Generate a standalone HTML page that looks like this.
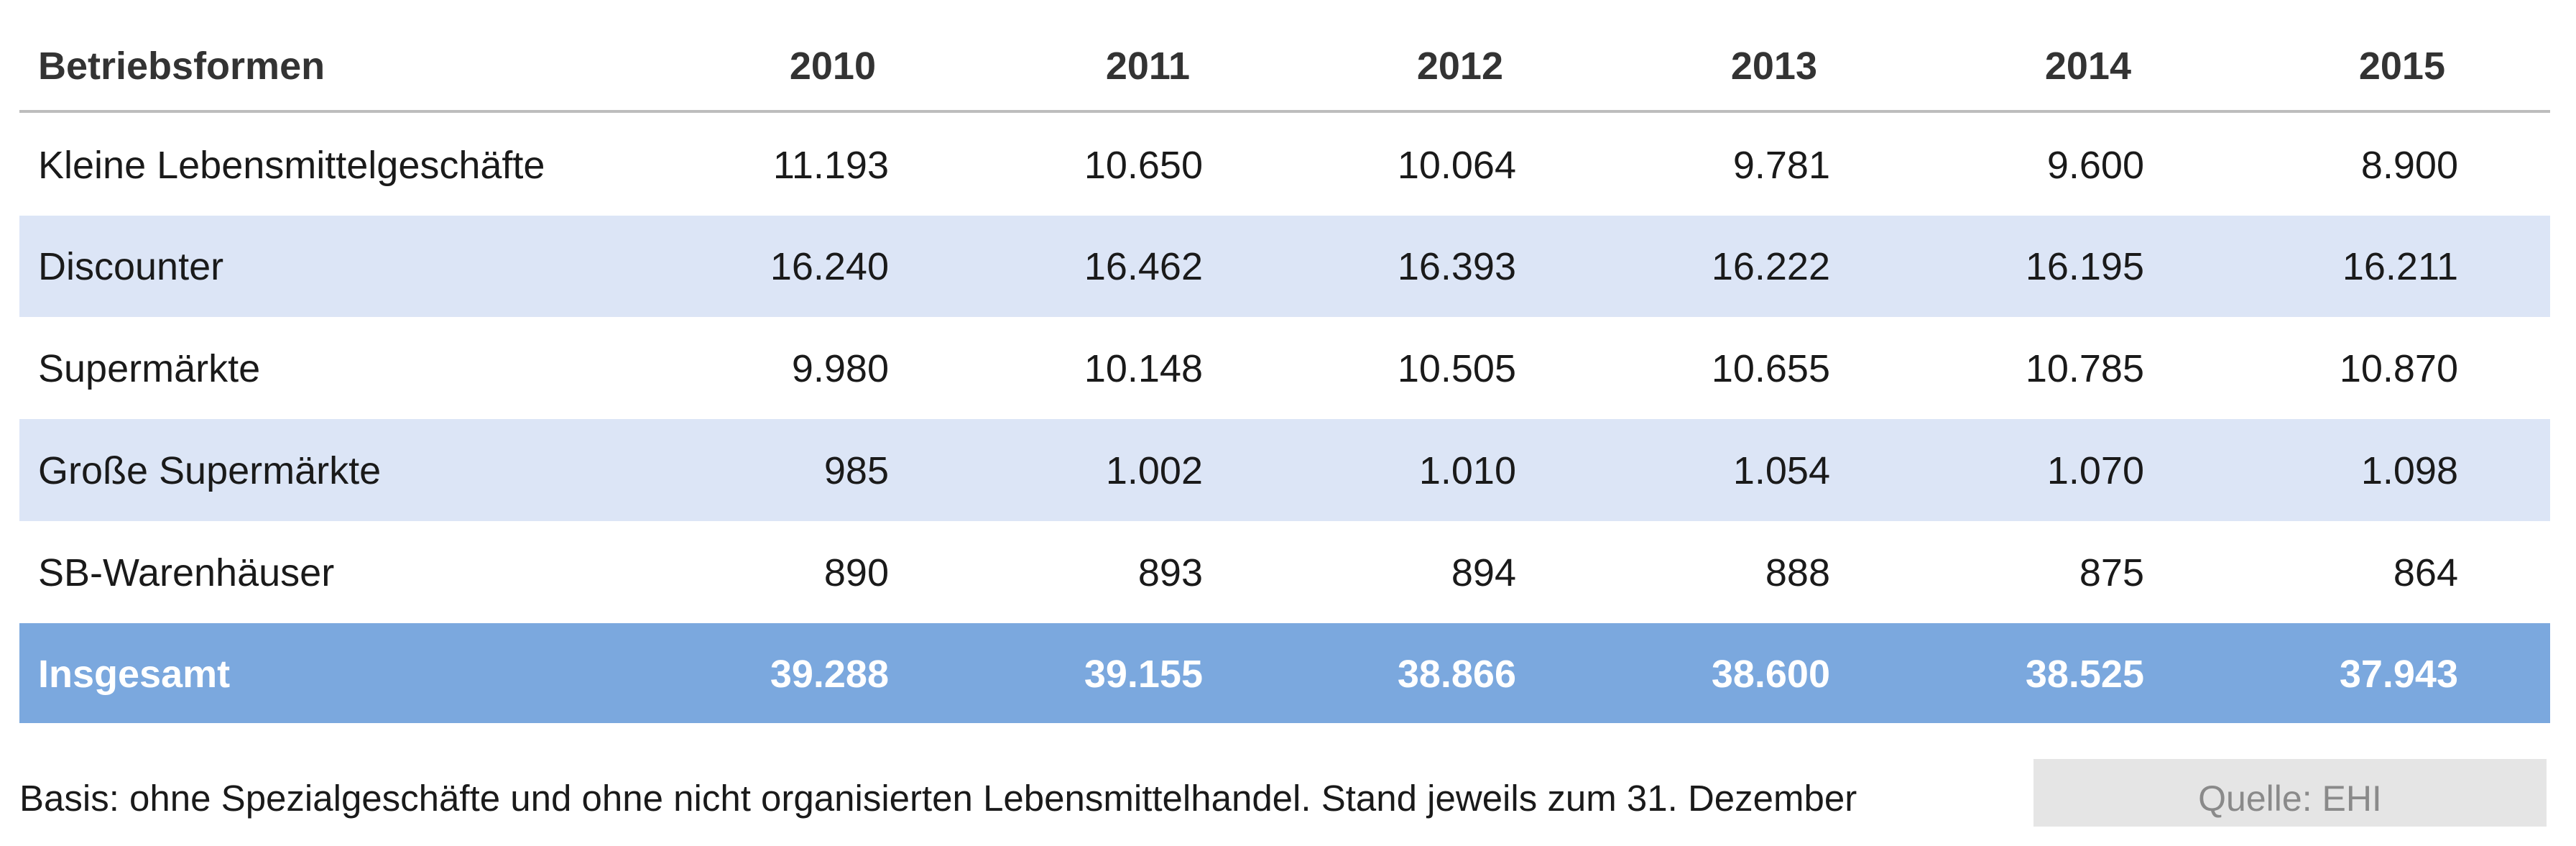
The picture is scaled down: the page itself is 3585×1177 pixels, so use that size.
<!DOCTYPE html>
<html><head><meta charset="utf-8"><style>
body{margin:0;width:3585px;height:1177px;background:#fff;position:relative;overflow:hidden;font-family:"Liberation Sans",sans-serif;color:#1a1a1a}
.r{position:absolute;left:27px;width:3522px}
.t{position:absolute;font-size:54px;line-height:1;white-space:nowrap}
.n{text-align:right;width:400px}
.b{font-weight:bold}
</style></head><body>
<div class="r" style="top:153px;height:4px;background:#bdbdbd"></div>
<div class="r" style="top:300px;height:141px;background:#dce5f6"></div>
<div class="r" style="top:583px;height:142px;background:#dce5f6"></div>
<div class="r" style="top:867px;height:139px;background:#7ba8de"></div>
<div style="position:absolute;left:2830px;top:1056px;width:714px;height:94px;background:#e5e5e5"></div>
<div id="c"></div>
<script>
var rows=[["Betriebsformen","2010","2011","2012","2013","2014","2015"],
["Kleine Lebensmittelgeschäfte","11.193","10.650","10.064","9.781","9.600","8.900"],
["Discounter","16.240","16.462","16.393","16.222","16.195","16.211"],
["Supermärkte","9.980","10.148","10.505","10.655","10.785","10.870"],
["Große Supermärkte","985","1.002","1.010","1.054","1.070","1.098"],
["SB-Warenhäuser","890","893","894","888","875","864"],
["Insgesamt","39.288","39.155","38.866","38.600","38.525","37.943"]];
var ys=[92,230,371,513,655,797,938];
var rx=[1237,1674,2110,2547,2984,3421];
var h="";
rows.forEach(function(r,i){
 var cls=(i==0||i==6)?" b":"";
 var col=i==0?"#333":(i==6?"#fff":"#1a1a1a");
 h+='<div class="t'+cls+'" style="left:53px;top:'+(ys[i]-27)+'px;color:'+col+'">'+r[0]+'</div>';
 for(var j=1;j<7;j++){
  var right=i==0?rx[j-1]-18:rx[j-1];
  h+='<div class="t n'+cls+'" style="left:'+(right-400)+'px;top:'+(ys[i]-27)+'px;color:'+col+'">'+r[j]+'</div>';
 }
});
document.getElementById("c").innerHTML=h;
</script>
<div class="t" style="left:27px;top:1085px;font-size:51px">Basis: ohne Spezialgeschäfte und ohne nicht organisierten Lebensmittelhandel. Stand jeweils zum 31. Dezember</div>
<div class="t" style="left:2830px;width:714px;text-align:center;top:1086px;font-size:50px;color:#8a8a8a">Quelle: EHI</div>
</body></html>
